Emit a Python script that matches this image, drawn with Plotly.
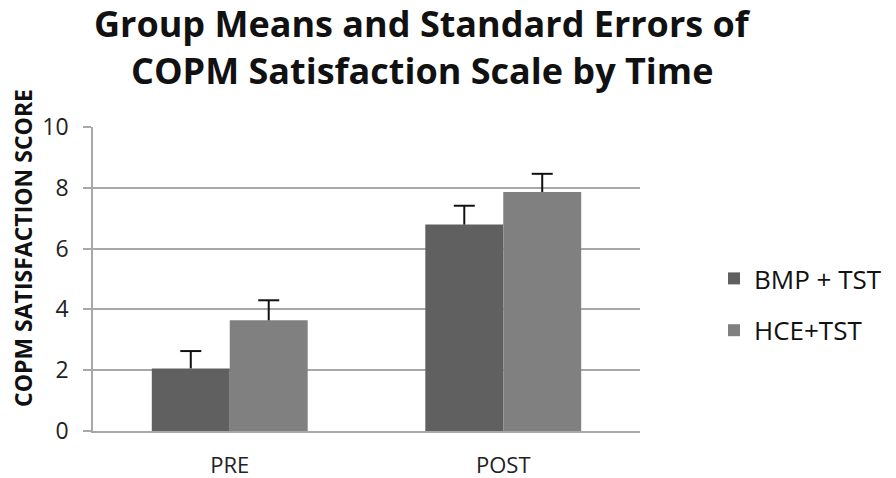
import plotly.graph_objects as go

categories = ["PRE", "POST"]
bmp_values = [2.06, 6.79]
bmp_errors = [0.57, 0.62]
hce_values = [3.64, 7.86]
hce_errors = [0.66, 0.60]
y_ticks = [0, 2, 4, 6, 8, 10]

BMP_COLOR = "#606060"
HCE_COLOR = "#808080"
ERR_COLOR = "#111111"

fig = go.Figure()
for name, vals, errs, color, grp in [
    ("BMP + TST", bmp_values, bmp_errors, BMP_COLOR, "a"),
    ("HCE+TST", hce_values, hce_errors, HCE_COLOR, "b"),
]:
    fig.add_trace(go.Bar(
        x=categories, y=vals, name=name, legendgroup=grp, offsetgroup=grp,
        marker=dict(color=color, line=dict(width=0)),
        error_y=dict(type="data", array=errs, arrayminus=[0] * len(errs), symmetric=False,
                     color=ERR_COLOR, thickness=2, width=0),
    ))
    # caps of the error bars, only at the upper end
    fig.add_trace(go.Scatter(
        x=categories, y=[v + e for v, e in zip(vals, errs)], mode="markers",
        offsetgroup=grp, showlegend=False, hoverinfo="skip", legendgroup=grp,
        marker=dict(symbol="line-ew", size=15, line=dict(width=2, color=ERR_COLOR)),
    ))

W, H = 896, 478
L, R, T, B = 93, 256, 127, 47
PW, PH = W - L - R, H - T - B


def px(xp):
    return (xp - L) / PW


def py(yp):
    return (H - B - yp) / PH


fig.update_layout(
    width=W, height=H,
    margin=dict(l=L, r=R, t=T, b=B, autoexpand=False),
    paper_bgcolor="white", plot_bgcolor="white",
    barmode="group", bargap=0.43, bargroupgap=0,
    scattermode="group", scattergap=0.43,
    font=dict(family="Open Sans, Liberation Sans, sans-serif", color="#222222"),
    legend=dict(
        x=px(714), y=py(255), xanchor="left", yanchor="top",
        font=dict(size=26, color="#111111"),
        tracegroupgap=15, traceorder="grouped",
    ),
    showlegend=True,
    annotations=[
        dict(text="<b>Group Means and Standard Errors of</b>",
             xref="paper", yref="paper", x=px(422), y=py(23),
             xanchor="center", yanchor="middle", showarrow=False,
             font=dict(size=36, color="#111111")),
        dict(text="<b>COPM Satisfaction Scale by Time</b>",
             xref="paper", yref="paper", x=px(422), y=py(70),
             xanchor="center", yanchor="middle", showarrow=False,
             font=dict(size=36, color="#111111")),
        dict(text="<b>COPM SATISFACTION SCORE</b>", textangle=-90,
             xref="paper", yref="paper", x=px(23), y=py(248),
             xanchor="center", yanchor="middle", showarrow=False,
             font=dict(size=23, color="#111111")),
    ],
)
fig.update_yaxes(
    range=[0, 10], tickvals=y_ticks, ticktext=[str(v) for v in y_ticks],
    showgrid=True, gridcolor="#a8a8a8", gridwidth=1.5,
    showline=True, linecolor="#a8a8a8", linewidth=1.5,
    ticks="outside", ticklen=8, tickcolor="#a8a8a8", tickwidth=1.5,
    ticklabelstandoff=10,
    tickfont=dict(size=23, color="#222222"), zeroline=False,
)
fig.update_xaxes(
    showline=True, linecolor="#a8a8a8", linewidth=1.5,
    ticks="outside", ticklen=14, tickcolor="rgba(0,0,0,0)",
    tickfont=dict(size=22, color="#222222"),
)

# remove the default 8px body margin so the figure fills the window exactly
fig.write_html("out.html", config={"displayModeBar": False},
               post_script="document.body.style.margin='0';")
